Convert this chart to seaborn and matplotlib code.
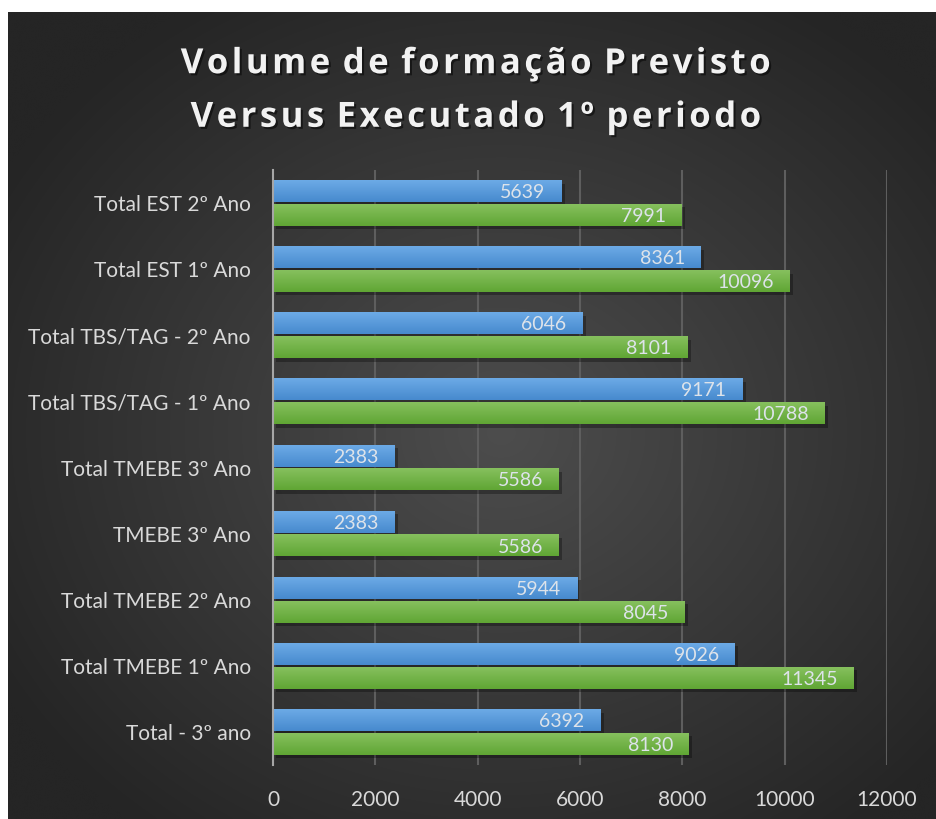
import numpy as np
import pandas as pd
import matplotlib
matplotlib.use("Agg")
import matplotlib.pyplot as plt
import matplotlib.patheffects as pe
import seaborn as sns

categories = ["Total EST 2º Ano", "Total EST 1º Ano", "Total TBS/TAG - 2º Ano",
              "Total TBS/TAG - 1º Ano", "Total TMEBE 3º Ano", "TMEBE 3º Ano",
              "Total TMEBE 2º Ano", "Total TMEBE 1º Ano", "Total - 3º ano"]
executado = [5639, 8361, 6046, 9171, 2383, 2383, 5944, 9026, 6392]
previsto = [7991, 10096, 8101, 10788, 5586, 5586, 8045, 11345, 8130]
series_names = ["Executado", "Previsto"]
xticks = [0, 2000, 4000, 6000, 8000, 10000, 12000]
title_lines = ["Volume de formação Previsto", "Versus Executado 1º periodo"]

df = pd.DataFrame({
    "categoria": categories * 2,
    "serie": [series_names[0]] * len(categories) + [series_names[1]] * len(categories),
    "valor": executado + previsto,
})

sns.set_theme(style="white")
plt.rcParams["font.family"] = ["Lato", "DejaVu Sans"]

W, H = 937, 819
fig = plt.figure(figsize=(W / 100, H / 100), dpi=100, facecolor="white")

# dark radial gradient background
bg = fig.add_axes([8 / W, 0, (W - 8) / W, (H - 12) / H])
bg.set_axis_off()
ny, nx = 400, 460
yy, xx = np.mgrid[0:ny, 0:nx]
cx, cy = nx * 0.53, ny * 0.52
r = np.sqrt(((xx - cx) / (nx * 0.62)) ** 2 + ((yy - cy) / (ny * 0.62)) ** 2)
r = np.clip(r, 0, 1)
inner = np.array([0x4d, 0x4d, 0x4d]) / 255
outer = np.array([0x25, 0x25, 0x25]) / 255
img = inner[None, None, :] * (1 - r[..., None]) + outer[None, None, :] * r[..., None]
bg.imshow(img, aspect="auto", extent=[0, 1, 0, 1], interpolation="bicubic")
bg.set_xlim(0, 1)
bg.set_ylim(0, 1)

ax = fig.add_axes([273 / W, 1 - 765 / H, (887 - 273) / W, (765 - 170) / H])
ax.set_facecolor("none")

palette = {"Executado": "#5b9bd5", "Previsto": "#70ad47"}
sns.barplot(data=df, y="categoria", x="valor", hue="serie", order=categories,
            hue_order=series_names, palette=palette, orient="h", width=0.72,
            gap=0.08, saturation=1, legend=False, ax=ax, zorder=3)

blue_top, blue_bot = np.array([0x6c, 0xaa, 0xe6]) / 255, np.array([0x47, 0x8a, 0xce]) / 255
green_top, green_bot = np.array([0x86, 0xc0, 0x5e]) / 255, np.array([0x60, 0xa6, 0x34]) / 255

for i, p in enumerate(ax.patches):
    p.set_edgecolor("none")
    p.set_path_effects([pe.SimplePatchShadow(offset=(2.5, -2.5), shadow_rgbFace="black", alpha=0.3),
                        pe.Normal()])
    x0, y0 = p.get_x(), p.get_y()
    w, h = p.get_width(), p.get_height()
    is_blue = i < len(categories)
    top, bot = (blue_top, blue_bot) if is_blue else (green_top, green_bot)
    t = np.linspace(0, 1, 32)[:, None]
    grad = (top[None, :] * (1 - t) + bot[None, :] * t)[:, None, :]
    ax.imshow(grad, aspect="auto", extent=[x0, x0 + w, y0 + h, y0],
              zorder=4, interpolation="bilinear")
    ax.annotate(f"{int(w)}", xy=(x0 + w, y0 + h / 2), xytext=(-16 * 0.72, 0),
                textcoords="offset points", ha="right", va="center_baseline",
                fontsize=14, color="#dde3ea", zorder=6)

ax.set_xlim(0, 12000)
ax.set_ylim(len(categories) - 0.5, -0.5)
ax.set_xticks(xticks)
ax.set_xticklabels([str(v) for v in xticks])
ax.grid(axis="x", color="#5e5e5e", linewidth=1.5, zorder=0)
ax.set_axisbelow(True)
for s in ["top", "right", "bottom"]:
    ax.spines[s].set_visible(False)
ax.spines["left"].set_color("#a6a6a6")
ax.spines["left"].set_linewidth(1.5)
ax.spines["left"].set_zorder(7)
ax.tick_params(axis="both", length=0, colors="#d9d9d9", labelsize=15)
ax.tick_params(axis="y", pad=16)
ax.tick_params(axis="x", pad=18)
ax.set_xlabel("")
ax.set_ylabel("")


def letter_space(s, sep="\u200a"):
    out = ""
    for k, a in enumerate(s):
        out += a
        if k < len(s) - 1 and a != " ":
            out += sep
    return out


spaced = "\n".join(letter_space(line) for line in title_lines)
fig.text(476 / W, 1 - 91 / H, spaced, ha="center", va="center", fontsize=25,
         fontweight="bold", family=["Open Sans", "DejaVu Sans"], color="#f2f2f2",
         linespacing=1.65,
         path_effects=[pe.withSimplePatchShadow(offset=(1.5, -1.5), shadow_rgbFace="black", alpha=0.5)])

fig.savefig("out.png", dpi=100, facecolor="white")
